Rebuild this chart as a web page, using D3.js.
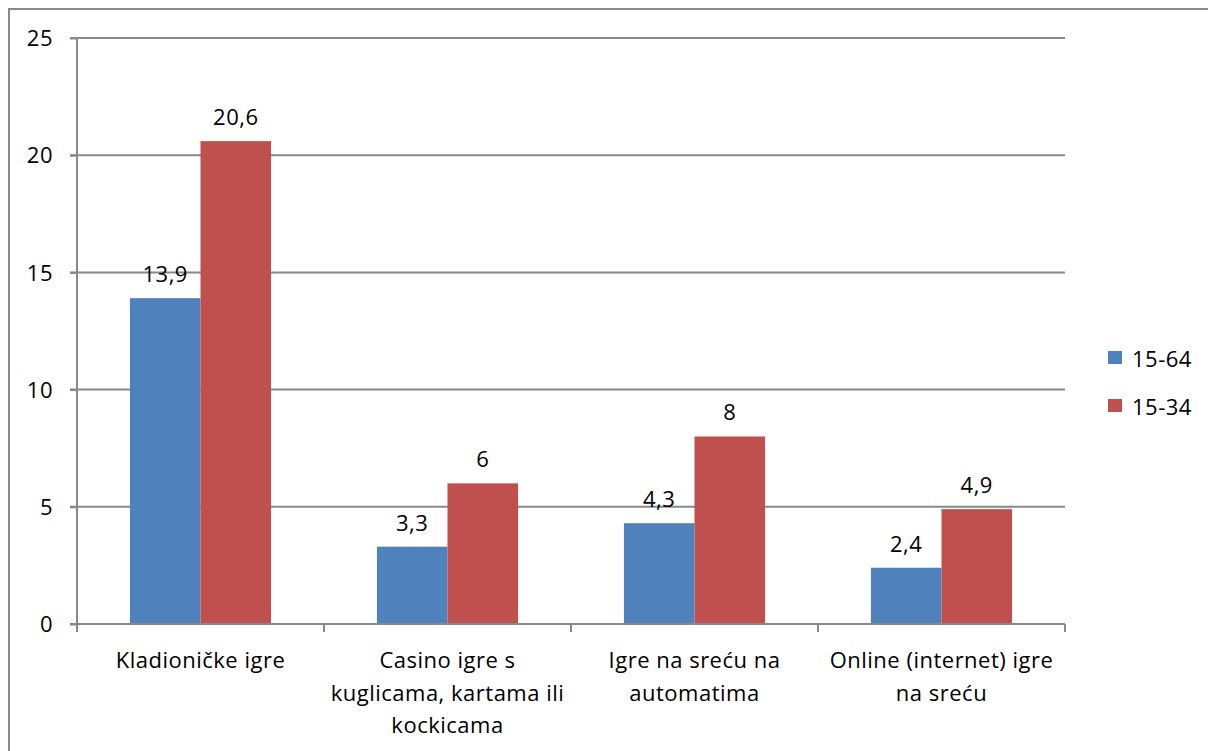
<!DOCTYPE html>
<html><head><meta charset="utf-8">
<script src="https://cdn.jsdelivr.net/npm/d3@7"></script>
<style>body{margin:0;background:#fff}svg{display:block}</style>
</head><body>
<svg id="c" width="1208" height="751"></svg>
<script>
const categories = [
  ["Kladioničke igre"],
  ["Casino igre s", "kuglicama, kartama ili", "kockicama"],
  ["Igre na sreću na", "automatima"],
  ["Online (internet) igre", "na sreću"]
];
const seriesNames = ["15-64", "15-34"];
const values1564 = [13.9, 3.3, 4.3, 2.4];
const values1534 = [20.6, 6, 8, 4.9];
const labels1564 = ["13,9", "3,3", "4,3", "2,4"];
const labels1534 = ["20,6", "6", "8", "4,9"];
const yTicks = [0, 5, 10, 15, 20, 25];
const colors = ["#4F81BD", "#C0504D"];

(function () {
const font = "'Open Sans', sans-serif";
const fs = 22;
const ls = "0.5px";
const svg = d3.select("#c");
const W = 1208, H = 751;
const pLeft = 77, pRight = 1065, pTop = 38, pBottom = 624;

svg.append("rect").attr("x", 9).attr("y", 9).attr("width", W + 20).attr("height", H + 20)
  .attr("fill", "none").attr("stroke", "#898989").attr("stroke-width", 2);

const x = d3.scaleBand().domain(d3.range(categories.length)).range([pLeft, pRight]);
const y = d3.scaleLinear().domain([0, 25]).range([pBottom, pTop]);
const bw = x.bandwidth() / 3.5;

// gridlines
svg.append("g").selectAll("line").data(yTicks).join("line")
  .attr("x1", pLeft - 7).attr("x2", pRight)
  .attr("y1", d => y(d)).attr("y2", d => y(d))
  .attr("stroke", "#898989").attr("stroke-width", 2);

// y axis
const yAxis = d3.axisLeft(y).tickValues(yTicks).tickSize(7).tickFormat(d3.format("d"));
const gy = svg.append("g").attr("transform", `translate(${pLeft},0)`).call(yAxis);
gy.select(".domain").attr("stroke", "#898989").attr("stroke-width", 2).attr("d", `M0,${pTop}V${pBottom}`);
gy.selectAll(".tick line").attr("stroke", "#898989").attr("stroke-width", 2);
gy.selectAll(".tick text").attr("x", -24).attr("dy", "0.35em").attr("font-size", fs)
  .attr("font-family", font).attr("fill", "#000").attr("letter-spacing", ls);

// bars
const series = [values1564, values1534];
const slabels = [labels1564, labels1534];
series.forEach((vals, si) => {
  const g = svg.append("g");
  g.selectAll("rect").data(vals).join("rect")
    .attr("x", (d, i) => x(i) + 0.75 * bw + si * bw)
    .attr("width", bw)
    .attr("y", d => y(d))
    .attr("height", d => y(0) - y(d))
    .attr("fill", colors[si]);
  g.selectAll("text").data(vals).join("text")
    .attr("x", (d, i) => x(i) + 0.75 * bw + si * bw + bw / 2)
    .attr("y", d => y(d) - 16)
    .attr("text-anchor", "middle").attr("font-size", fs).attr("font-family", font)
    .attr("fill", "#000").attr("letter-spacing", ls)
    .text((d, i) => slabels[si][i]);
});

// x axis
const xg = svg.append("g");
xg.append("line").attr("x1", pLeft).attr("x2", pRight).attr("y1", y(0)).attr("y2", y(0))
  .attr("stroke", "#898989").attr("stroke-width", 2);
const bounds = d3.range(categories.length + 1).map(i => i < categories.length ? x(i) : x(i - 1) + x.bandwidth());
xg.selectAll("line.t").data(bounds).join("line").attr("class", "t")
  .attr("x1", d => d).attr("x2", d => d).attr("y1", y(0)).attr("y2", y(0) + 8)
  .attr("stroke", "#898989").attr("stroke-width", 2);

const cl = xg.selectAll("text").data(categories).join("text")
  .attr("text-anchor", "middle").attr("font-size", fs).attr("font-family", font)
  .attr("fill", "#000").attr("letter-spacing", ls);
cl.each(function(lines, i) {
  d3.select(this).selectAll("tspan").data(lines).join("tspan")
    .attr("x", x(i) + x.bandwidth() / 2)
    .attr("y", (d, j) => 668 + j * 32.5)
    .text(d => d);
});

// legend
const lg = svg.append("g");
seriesNames.forEach((n, i) => {
  lg.append("rect").attr("x", 1108).attr("y", 351 + i * 48).attr("width", 14).attr("height", 13).attr("fill", colors[i]);
  lg.append("text").attr("x", 1132).attr("y", 367 + i * 48).attr("font-size", fs).attr("font-family", font)
    .attr("fill", "#000").attr("letter-spacing", ls).text(n);
});
})();
</script>
</body></html>
